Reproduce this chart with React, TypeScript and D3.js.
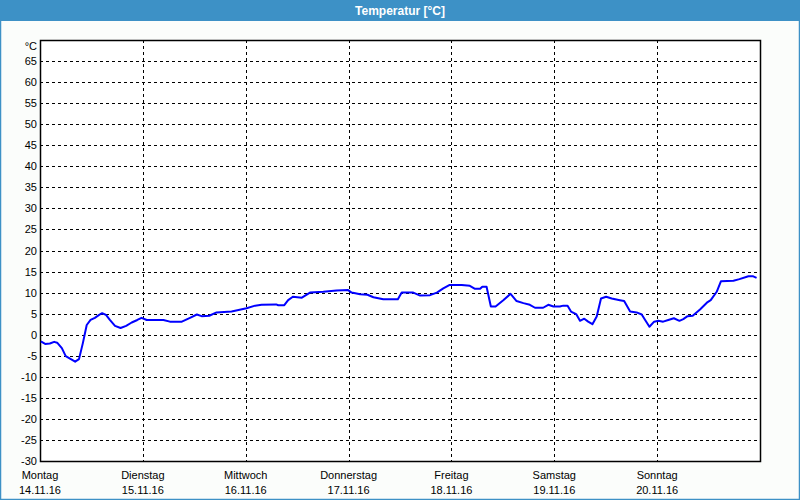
import React, { useRef, useEffect } from "react";
import * as d3 from "d3";

// hours since Monday 00:00 and temperature in °C
const hours = [
  0.2, 1.2, 2.3, 3.3, 4.0, 5.1, 6.0, 7.2, 8.2, 9.1, 10.0, 10.9, 11.8, 12.8, 13.8, 14.5, 15.4, 16.3,
  17.5, 18.8, 20.1, 21.4, 22.7, 23.7, 24.9, 28.8, 30.3, 33.1, 35.0, 36.6, 37.7, 39.5, 41.2, 44.7,
  48.2, 50.2, 51.7, 55.1, 55.6, 57.0, 57.9, 59.0, 61.1, 63.0, 66.1, 69.2, 71.9, 72.7, 74.7, 76.4,
  77.8, 80.1, 83.5, 84.4, 87.1, 88.7, 91.0, 92.6, 94.1, 95.5, 98.4, 100.3, 101.5, 102.7, 103.2,
  104.2, 105.2, 106.3, 108.1, 109.8, 111.2, 112.8, 114.3, 115.5, 117.4, 118.6, 119.8, 121.3, 122.1,
  123.1, 123.9, 125.1, 126.0, 127.0, 127.9, 128.9, 129.9, 130.9, 132.1, 133.4, 135.3, 136.3, 137.7,
  139.2, 140.4, 141.2, 142.2, 143.3, 144.3, 145.4, 146.6, 147.9, 149.2, 150.1, 151.1, 152.3, 154.0,
  155.6, 156.5, 157.9, 158.9, 161.8, 163.2, 165.3, 166.3, 167.2,
];
const temps = [
  -1.6, -2.2, -2.1, -1.7, -1.9, -3.2, -5.1, -5.8, -6.4, -5.8, -2.0, 2.3, 3.5, 4.0, 4.7, 5.1, 4.7, 3.5,
  2.1, 1.6, 2.1, 2.9, 3.5, 4.0, 3.5, 3.5, 3.1, 3.1, 4.0, 4.8, 4.4, 4.5, 5.3, 5.5,
  6.3, 6.9, 7.1, 7.2, 7.0, 7.0, 8.2, 9.0, 8.8, 10.0, 10.2, 10.5, 10.6, 10.0, 9.6, 9.5,
  8.9, 8.4, 8.4, 10.0, 10.0, 9.3, 9.4, 10.0, 11.0, 11.8, 11.8, 11.6, 10.9, 10.9, 11.4,
  11.4, 6.7, 6.7, 8.2, 9.7, 8.0, 7.5, 7.1, 6.4, 6.4, 7.1, 6.7, 6.7, 6.9,
  6.9, 5.5, 4.9, 3.3, 3.8, 3.1, 2.5, 4.3, 8.6, 9.0, 8.6, 8.2, 8.0, 5.5,
  5.3, 4.8, 3.5, 1.9, 3.1, 3.3, 3.1, 3.5, 3.9, 3.3, 3.7, 4.4, 4.5, 6.0,
  7.6, 8.2, 10.2, 12.7, 12.8, 13.2, 13.9, 13.9, 13.5,
];
const dayNames = ["Montag", "Dienstag", "Mittwoch", "Donnerstag", "Freitag", "Samstag", "Sonntag"];
const dayDates = ["14.11.16", "15.11.16", "16.11.16", "17.11.16", "18.11.16", "19.11.16", "20.11.16"];
const yTicks = d3.range(-30, 70, 5);

const W = 800;
const H = 500;
const FONT = "'Liberation Sans', Arial, sans-serif";

export default function App() {
  const svgRef = useRef<SVGSVGElement>(null);

  useEffect(() => {
    const svg = d3.select(svgRef.current);
    svg.selectAll("*").remove();

    const margin = { top: 40, right: 40, bottom: 39, left: 40 };
    const x = d3.scaleLinear().domain([0, 168]).range([margin.left, W - margin.right]);
    const y = d3.scaleLinear().domain([-30, 70]).range([H - margin.bottom, margin.top]);

    svg.append("rect").attr("width", W).attr("height", H).attr("fill", "#fbfdfb");
    // frame
    svg.append("rect")
      .attr("x", 0.5).attr("y", 0.5).attr("width", W - 1).attr("height", H - 1)
      .attr("fill", "none").attr("stroke", "#3d91c6").attr("stroke-width", 1.5);
    svg.append("rect").attr("width", W).attr("height", 21).attr("fill", "#3d91c6");
    svg.append("text")
      .attr("x", W / 2).attr("y", 14.5)
      .attr("text-anchor", "middle")
      .attr("fill", "white")
      .style("font-family", FONT)
      .style("font-size", "12px")
      .style("font-weight", "bold")
      .text("Temperatur [°C]");

    svg.append("rect")
      .attr("x", x(0)).attr("y", y(70))
      .attr("width", x(168) - x(0)).attr("height", y(-30) - y(70))
      .attr("fill", "white");

    const grid = svg.append("g").attr("stroke", "black").attr("stroke-dasharray", "3,3").attr("stroke-width", 1);
    yTicks.filter(t => t > -30).forEach(t => {
      grid.append("line")
        .attr("x1", x(0)).attr("x2", x(168))
        .attr("y1", Math.round(y(t)) + 0.5).attr("y2", Math.round(y(t)) + 0.5);
    });
    d3.range(1, 7).forEach(d => {
      grid.append("line")
        .attr("x1", Math.round(x(d * 24)) + 0.5).attr("x2", Math.round(x(d * 24)) + 0.5)
        .attr("y1", y(70)).attr("y2", y(-30));
    });

    svg.append("rect")
      .attr("x", x(0) + 0.5).attr("y", y(70) + 0.5)
      .attr("width", x(168) - x(0)).attr("height", y(-30) - y(70))
      .attr("fill", "none").attr("stroke", "black").attr("stroke-width", 1.5);

    const labels = svg.append("g")
      .style("font-family", FONT)
      .style("font-size", "11px")
      .attr("fill", "black");

    yTicks.forEach(t => {
      labels.append("text")
        .attr("x", 37).attr("y", y(t) + 4)
        .attr("text-anchor", "end")
        .text(t);
    });
    labels.append("text").attr("x", 37).attr("y", 50).attr("text-anchor", "end").text("°C");

    dayNames.forEach((name, i) => {
      labels.append("text")
        .attr("x", x(i * 24)).attr("y", 479)
        .attr("text-anchor", "middle")
        .text(name);
      labels.append("text")
        .attr("x", x(i * 24)).attr("y", 494)
        .attr("text-anchor", "middle")
        .text(dayDates[i]);
    });

    const line = d3.line<number>()
      .x((_, i) => x(hours[i]))
      .y(d => y(d));

    svg.append("path")
      .datum(temps)
      .attr("d", line)
      .attr("fill", "none")
      .attr("stroke", "#0000ff")
      .attr("stroke-width", 2)
      .attr("stroke-linejoin", "round");
  }, []);

  return (
    <div style={{ position: "absolute", left: 0, top: 0 }}>
      <svg ref={svgRef} width={W} height={H} style={{ display: "block" }} />
    </div>
  );
}
